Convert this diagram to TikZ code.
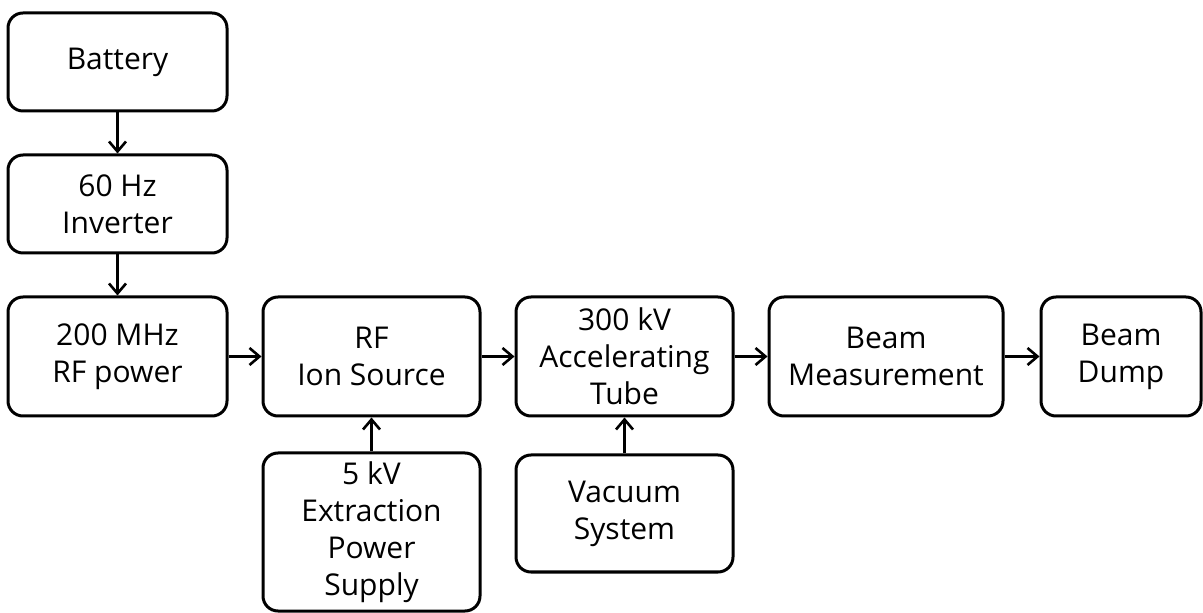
\documentclass[tikz,border=0pt]{standalone}
\usepackage{fontspec}
\setmainfont{Open Sans}
\usetikzlibrary{arrows.meta,positioning}

\begin{document}
\begin{tikzpicture}[
    node distance=16.5pt,
    box/.style={draw=black,line width=1.5pt,rounded corners=7.5pt,fill=white,minimum width=108.5pt,minimum height=59.5pt,align=center,inner sep=2pt,font=\fontsize{15}{18.5}\selectfont},
    arrow/.style={-{Straight Barb[length=5pt,width=8.5pt,line width=1.3pt]},line width=1.4pt,draw=black}
  ]
    \useasboundingbox[fill=white] (0,0) rectangle (601.5pt,-306.5pt);
    \node[box,minimum width=109.5pt,minimum height=49pt] (battery) at (58.75pt,-31pt) {Battery};
    \node[box,minimum width=109.5pt,minimum height=49pt,below=20.5pt of battery] (inverter) {60 Hz\\Inverter};
    \node[box,minimum width=109.5pt,below=20.5pt of inverter] (rfpower) {200 MHz\\RF power};
    \node[box,right=of rfpower] (ionsrc) {RF\\Ion Source};
    \node[box,right=of ionsrc] (acctube) {300 kV\\Accelerating\\Tube};
    \node[box,minimum width=117pt,right=of acctube] (beammeas) {Beam\\Measurement};
    \node[box,minimum width=80pt,right=17.5pt of beammeas] (beamdump) {Beam\\Dump};
    \node[box,minimum height=79pt,below=17pt of ionsrc] (extps) {5 kV\\Extraction\\Power\\Supply};
    \node[box,minimum height=58.5pt,below=18pt of acctube] (vacsys) {Vacuum\\System};
    \draw[arrow] (battery) -- (inverter);
    \draw[arrow] (inverter) -- (rfpower);
    \draw[arrow] (rfpower) -- (ionsrc);
    \draw[arrow] (ionsrc) -- (acctube);
    \draw[arrow] (acctube) -- (beammeas);
    \draw[arrow] (beammeas) -- (beamdump);
    \draw[arrow] (extps) -- (ionsrc);
    \draw[arrow] (vacsys) -- (acctube);
  \end{tikzpicture}
\end{document}
